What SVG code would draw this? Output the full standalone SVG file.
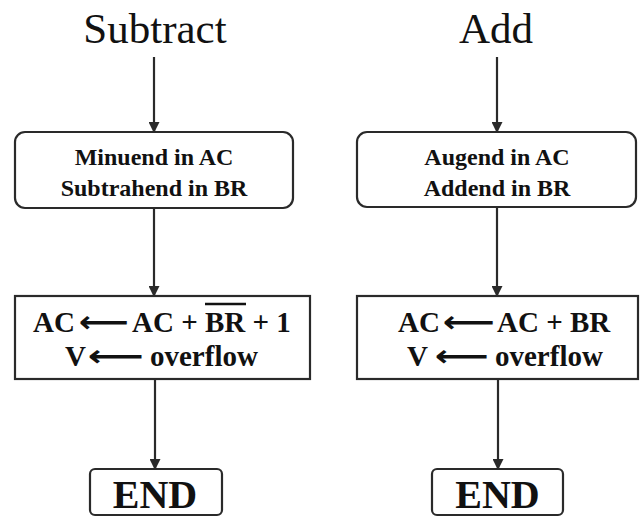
<svg xmlns="http://www.w3.org/2000/svg" width="640" height="517" viewBox="0 0 640 517">
  <style>
    .title { font-family: "Liberation Serif", "Times New Roman", serif; font-size: 43px; fill: #111; text-anchor: middle; }
    .lbl { font-family: "Liberation Serif", "Times New Roman", serif; font-size: 24px; font-weight: bold; fill: #111; text-anchor: middle; }
    .eq { font-family: "Liberation Serif", "Times New Roman", serif; font-size: 29px; font-weight: bold; fill: #111; }
    .arr { font-family: "DejaVu Sans", sans-serif; font-size: 30px; font-weight: bold; fill: #111; }
    .end { font-family: "Liberation Serif", "Times New Roman", serif; font-size: 40px; font-weight: bold; fill: #111; text-anchor: middle; }
    .box { fill: #fff; stroke: #2a2a2a; stroke-width: 2.2; }
    .conn { stroke: #2a2a2a; stroke-width: 2.2; fill: none; marker-end: url(#head); }
  </style>
  <defs>
    <marker id="head" viewBox="0 0 10 10" refX="9" refY="5" markerUnits="userSpaceOnUse" markerWidth="11" markerHeight="11" orient="auto">
      <path d="M0,0 L10,5 L0,10 z" fill="#2a2a2a"/>
    </marker>
  </defs>
  <rect width="640" height="517" fill="#fff"/>

  <!-- Subtract branch -->
  <g id="title-subtract">
    <text class="title" x="155" y="43">Subtract</text>
  </g>
  <g id="sub-load">
    <rect class="box" x="15" y="132" width="278" height="76" rx="10"/>
    <text class="lbl" x="154" y="165">Minuend in AC</text>
    <text class="lbl" x="154" y="196">Subtrahend in BR</text>
  </g>
  <g id="sub-op">
    <rect class="box" x="15" y="296" width="295" height="83"/>
    <text class="eq" x="33" y="332">AC</text>
    <text class="arr" x="79" y="332" textLength="50" lengthAdjust="spacingAndGlyphs">⟵</text>
    <text class="eq" x="132" y="332">AC + BR + 1</text>
    <!-- complement bar over BR -->
    <line x1="205" y1="304" x2="246" y2="304" stroke="#111" stroke-width="2.4"/>
    <text class="eq" x="65" y="366">V</text>
    <text class="arr" x="88" y="366" textLength="56" lengthAdjust="spacingAndGlyphs">⟵</text>
    <text class="eq" x="150" y="366">overflow</text>
  </g>
  <g id="sub-end">
    <rect class="box" x="90" y="469" width="132" height="46" rx="5"/>
    <text class="end" x="155" y="508">END</text>
  </g>

  <!-- Add branch -->
  <g id="title-add">
    <text class="title" x="496" y="43">Add</text>
  </g>
  <g id="add-load">
    <rect class="box" x="357" y="132" width="279" height="75" rx="10"/>
    <text class="lbl" x="497" y="165">Augend in AC</text>
    <text class="lbl" x="497" y="196">Addend in BR</text>
  </g>
  <g id="add-op">
    <rect class="box" x="357" y="296" width="281" height="83"/>
    <text class="eq" x="398" y="332">AC</text>
    <text class="arr" x="443" y="332" textLength="52" lengthAdjust="spacingAndGlyphs">⟵</text>
    <text class="eq" x="497" y="332">AC + BR</text>
    <text class="eq" x="407" y="366">V</text>
    <text class="arr" x="435" y="366" textLength="54" lengthAdjust="spacingAndGlyphs">⟵</text>
    <text class="eq" x="495" y="366">overflow</text>
  </g>
  <g id="add-end">
    <rect class="box" x="432" y="469" width="131" height="46" rx="5"/>
    <text class="end" x="497.5" y="508">END</text>
  </g>

  <!-- connectors -->
  <g id="connectors">
    <line class="conn" x1="154" y1="57" x2="154" y2="132"/>
    <line class="conn" x1="154" y1="208" x2="154" y2="296"/>
    <line class="conn" x1="155" y1="379" x2="155" y2="469"/>
    <line class="conn" x1="497" y1="57" x2="497" y2="132"/>
    <line class="conn" x1="497" y1="207" x2="497" y2="296"/>
    <line class="conn" x1="498" y1="379" x2="498" y2="469"/>
  </g>
</svg>
